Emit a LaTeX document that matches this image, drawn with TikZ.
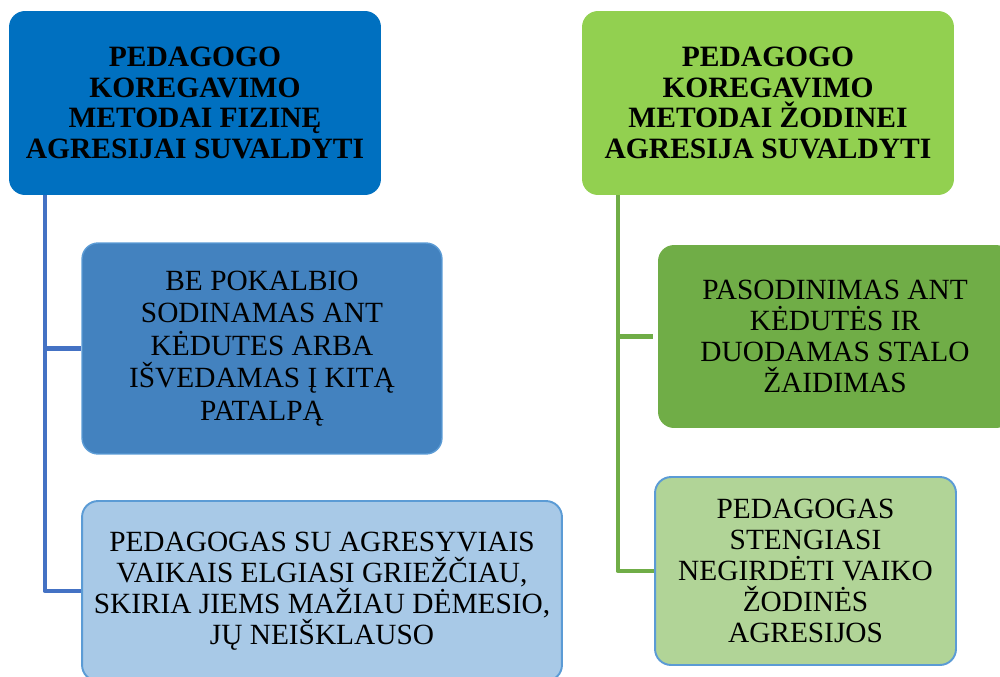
\documentclass[tikz,border=0pt]{standalone}
\usepackage{fontspec}
\setmainfont{Liberation Serif}
\definecolor{darkblue}{HTML}{0070C0}
\definecolor{midblue}{HTML}{4382BF}
\definecolor{paleblue}{HTML}{A8C9E7}
\definecolor{edgeblue}{HTML}{5B9BD5}
\definecolor{lineblue}{HTML}{4472C4}
\definecolor{lightgreen}{HTML}{92D050}
\definecolor{midgreen}{HTML}{70AD47}
\definecolor{palegreen}{HTML}{B1D497}
\begin{document}
\begin{tikzpicture}[x=0.02cm,y=-0.02cm,line join=round]
		\tikzset{box/.style={rectangle,rounded corners=0.32cm,align=center,inner sep=0pt,font=\fontsize{16.7}{17.6}\selectfont},
			head/.style={box,fill=#1,font=\fontsize{16.8}{17.3}\selectfont\bfseries,minimum width=7.44cm,minimum height=3.68cm},
			link/.style={line width=2.3pt,#1}}
		\clip (0,0) rectangle (1000,676);
		% top boxes
		\node[head=darkblue] (fiz) at (195,103) {PEDAGOGO\\KOREGAVIMO\\METODAI FIZINĘ\\AGRESIJAI SUVALDYTI};
		\node[head=lightgreen] (zod) at (768,103) {PEDAGOGO\\KOREGAVIMO\\METODAI ŽODINEI\\AGRESIJA SUVALDYTI};
		% left branch
		\node[box,fill=midblue,draw=edgeblue,line width=0.8pt,minimum width=7.2cm,minimum height=4.22cm,font=\fontsize{16.7}{18.5}\selectfont] (sod) at (262,348.5) {BE POKALBIO\\SODINAMAS ANT\\KĖDUTES ARBA\\IŠVEDAMAS Į KITĄ\\PATALPĄ};
		\node[box,fill=paleblue,draw=edgeblue,line width=1.1pt,minimum width=9.6cm,minimum height=3.6cm] (grie) at (322,591) {PEDAGOGAS SU AGRESYVIAIS\\VAIKAIS ELGIASI GRIEŽČIAU,\\SKIRIA JIEMS MAŽIAU DĖMESIO,\\JŲ NEIŠKLAUSO};
		% right branch
		\node[box,fill=midgreen,minimum width=7.08cm,minimum height=3.66cm] (pas) at (835,336.5) {PASODINIMAS ANT\\KĖDUTĖS IR\\DUODAMAS STALO\\ŽAIDIMAS};
		\node[box,fill=palegreen,draw=edgeblue,line width=1.1pt,minimum width=6.02cm,minimum height=3.76cm] (neg) at (805.5,571) {PEDAGOGAS\\STENGIASI\\NEGIRDĖTI VAIKO\\ŽODINĖS\\AGRESIJOS};
		% connectors
		\coordinate (lt) at ([xshift=0.72cm]fiz.south west);
		\coordinate (rt) at ([xshift=0.72cm]zod.south west);
		\draw[link=lineblue] (lt) |- (sod.west);
		\draw[link=lineblue] (lt) |- (grie.west);
		\draw[link=midgreen] (rt) |- ([xshift=-0.1cm]pas.west);
		\draw[link=midgreen] (rt) |- (neg.west);
\end{tikzpicture}
\end{document}
